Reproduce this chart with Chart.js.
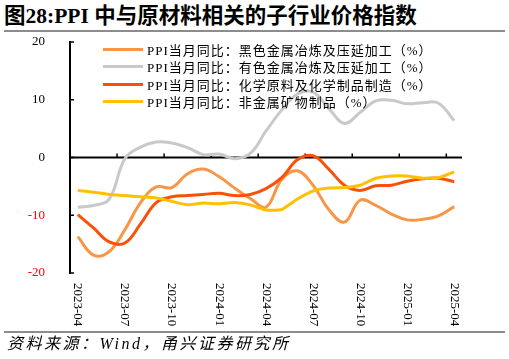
<!DOCTYPE html>
<html><head><meta charset="utf-8">
<script src="https://cdn.jsdelivr.net/npm/chart.js@4/dist/chart.umd.min.js"></script>
<style>
html,body{margin:0;padding:0;background:#fff;}
body{width:509px;height:359px;position:relative;overflow:hidden;font-family:"Liberation Serif","Noto Sans CJK SC",serif;color:#000;}
#title{position:absolute;left:4px;top:4px;font-size:21.5px;font-weight:bold;white-space:nowrap;line-height:25px;}
#topline{position:absolute;left:4px;width:501px;top:30px;height:1.5px;background:#8c8c8c;}
#botline{position:absolute;left:4px;width:501px;top:331px;height:1.5px;background:#8c8c8c;}
#source{position:absolute;left:7px;top:334px;font-size:16px;font-style:italic;letter-spacing:2.5px;white-space:nowrap;line-height:19px;}
#c{position:absolute;left:0;top:0;}
#legend{position:absolute;left:103px;top:41px;font-size:13px;letter-spacing:1px;}
.li{display:flex;align-items:center;height:17.3px;white-space:nowrap;}
.sw{width:40px;height:3px;margin-right:4px;}
</style></head>
<body>
<div id="title">图28:PPI 中与原材料相关的子行业价格指数</div>
<div id="topline"></div>
<canvas id="c" width="509" height="359"></canvas>
<div id="legend"></div>
<div id="botline"></div>
<div id="source">资料来源：Wind，甬兴证券研究所</div>
<script>
const categories = ["2023-04","2023-05","2023-06","2023-07","2023-08","2023-09","2023-10","2023-11","2023-12",
  "2024-01","2024-02","2024-03","2024-04","2024-05","2024-06","2024-07","2024-08","2024-09","2024-10",
  "2024-11","2024-12","2025-01","2025-02","2025-03","2025-04"];
const seriesNames = ["PPI当月同比：黑色金属冶炼及压延加工（%）","PPI当月同比：有色金属冶炼及压延加工（%）",
  "PPI当月同比：化学原料及化学制品制造（%）","PPI当月同比：非金属矿物制品（%）"];
const ferrous = [-13.7,-16.9,-16.3,-12.5,-7.8,-5.1,-5.2,-2.8,-2.0,-3.3,-5.3,-7.1,-8.6,-3.8,-2.3,-4.8,-9.0,-11.2,-7.4,-8.3,-9.8,-10.8,-10.7,-10.1,-8.5];
const nonferrous = [-8.6,-8.3,-7.2,-0.2,1.8,2.7,2.5,1.7,0.5,0.6,-0.2,0.7,4.6,8.2,11.0,11.3,8.5,5.9,7.8,9.8,9.9,9.3,9.5,9.4,6.4];
const chemical = [-9.9,-12.2,-14.6,-14.8,-11.5,-7.8,-6.8,-6.6,-6.4,-6.2,-6.6,-6.4,-5.4,-3.5,-0.4,0.3,-2.0,-4.8,-5.7,-4.9,-4.8,-4.1,-3.7,-3.6,-4.2];
const nonmetal = [-5.7,-6.0,-6.4,-6.6,-6.8,-7.0,-7.6,-8.2,-7.9,-8.0,-7.8,-8.2,-9.1,-9.0,-7.2,-5.8,-5.3,-5.2,-4.8,-3.6,-3.2,-3.2,-3.6,-3.5,-2.5];
const yTicks = [-20,-10,0,10,20];
const colors = ["#F79646","#C9C9C9","#FA500A","#FFC000"];
const seriesData = [ferrous, nonferrous, chemical, nonmetal];

const datasets = seriesData.map((d,k)=>({
  label: seriesNames[k], data: d, borderColor: colors[k], backgroundColor: colors[k],
  borderWidth: 3, pointRadius: 0, fill: false, tension: k===3 ? 0.15 : 0.4,
  order: 4-k
}));

// HTML legend built from datasets
const lg = document.getElementById('legend');
datasets.forEach(ds=>{
  const row = document.createElement('div'); row.className='li';
  const sw = document.createElement('div'); sw.className='sw'; sw.style.background=ds.borderColor;
  const tx = document.createElement('span'); tx.textContent = ds.label;
  row.appendChild(sw); row.appendChild(tx); lg.appendChild(row);
});

const deco = {
  id:'deco',
  beforeDatasetsDraw(chart){
    const {ctx, chartArea:ca, scales:{x,y}} = chart;
    ctx.save();
    ctx.strokeStyle='#000'; ctx.lineWidth=2;
    const y0 = y.getPixelForValue(0);
    ctx.beginPath(); ctx.moveTo(ca.left, y0); ctx.lineTo(ca.right, y0); ctx.stroke();
    ctx.lineWidth=1.5;
    for (let i=2;i<categories.length-1;i+=3){
      const px=(x.getPixelForValue(i)+x.getPixelForValue(i+1))/2;
      ctx.beginPath(); ctx.moveTo(px,y0); ctx.lineTo(px,y0-4); ctx.stroke();
    }
    for (const v of yTicks){
      const py=y.getPixelForValue(v);
      ctx.beginPath(); ctx.moveTo(ca.left,py); ctx.lineTo(ca.left+4,py); ctx.stroke();
    }
    ctx.restore();
  },
  afterDraw(chart){
    const {ctx, chartArea:ca, scales:{x}} = chart;
    ctx.save();
    ctx.font='13px "Liberation Serif"'; ctx.fillStyle='#000';
    ctx.textAlign='left'; ctx.textBaseline='middle';
    for (let i=0;i<categories.length;i+=3){
      const px=x.getPixelForValue(i);
      ctx.save(); ctx.translate(px, ca.bottom+10); ctx.rotate(Math.PI/2);
      ctx.fillText(categories[i],0,0); ctx.restore();
    }
    ctx.restore();
  }
};

new Chart(document.getElementById('c'), {
  type:'line',
  data:{labels:categories, datasets},
  options:{
    responsive:false, animation:false,
    layout:{padding:{top:42,left:0,right:47,bottom:26}},
    plugins:{legend:{display:false}, tooltip:{enabled:false}},
    scales:{
      x:{type:'category', offset:true, ticks:{display:false}, grid:{display:false}, border:{display:false},
         afterFit(s){ s.height=60; }},
      y:{min:-20, max:20, ticks:{stepSize:10, padding:17,
           color:(c)=> c.tick.value<0 ? '#FF0000' : '#000',
           font:{family:'Liberation Serif', size:13}},
         grid:{display:false}, border:{display:true, color:'#000', width:2},
         afterFit(s){ s.width=70; }}
    }
  },
  plugins:[deco]
});
</script>
</body></html>
